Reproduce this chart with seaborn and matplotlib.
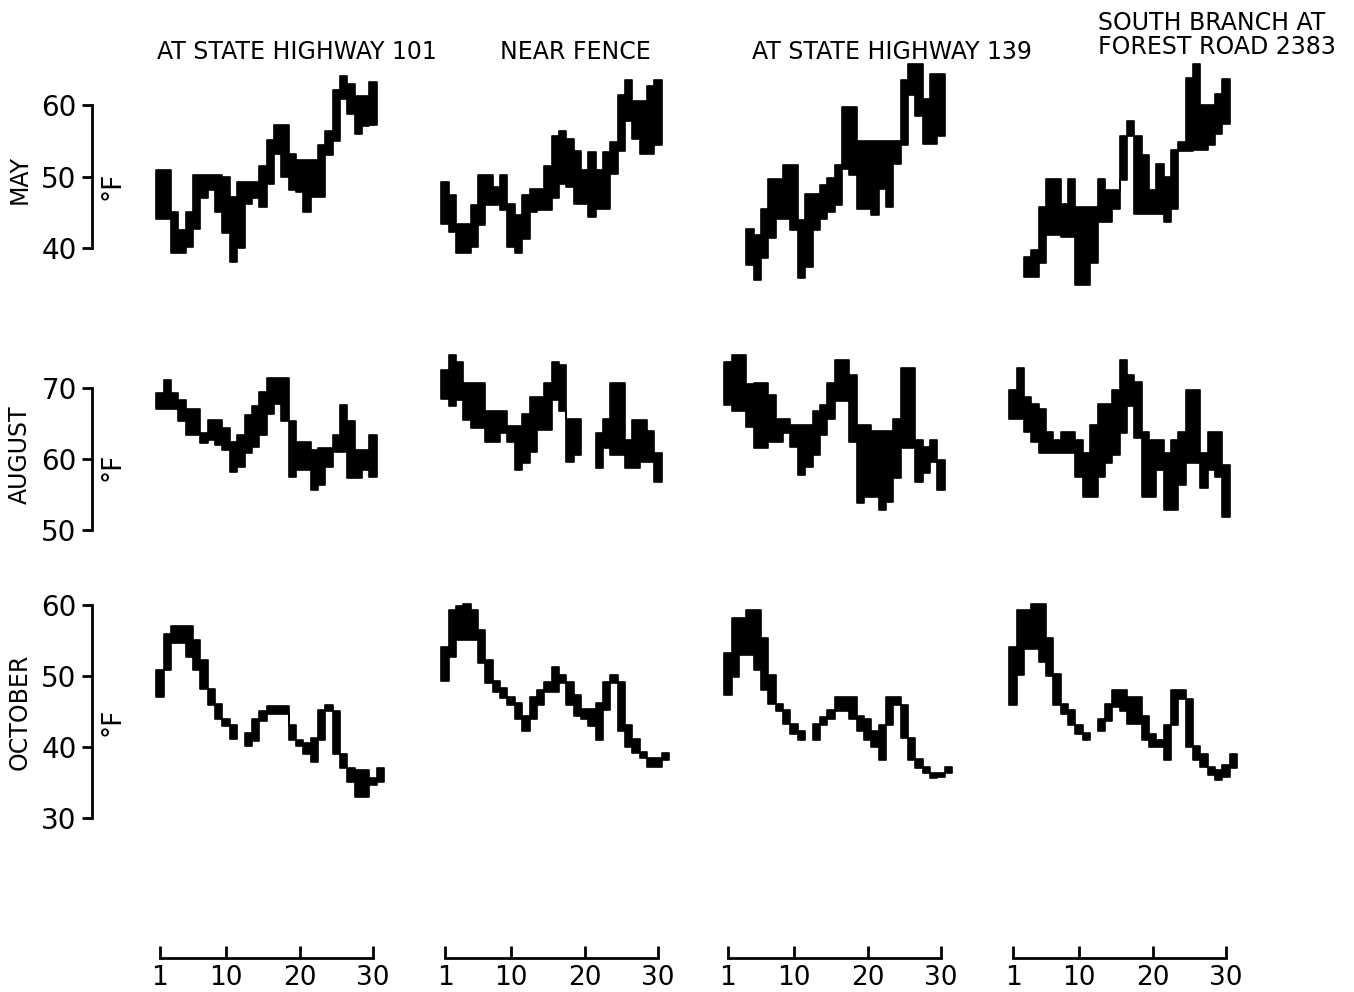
import numpy as np
import matplotlib
matplotlib.use('Agg')
import matplotlib.pyplot as plt
import seaborn as sns

nan = np.nan

# 지점, 월
sites = ['AT STATE HIGHWAY 101', 'NEAR FENCE', 'AT STATE HIGHWAY 139', 'SOUTH BRANCH AT\nFOREST ROAD 2383']
months = ['MAY', 'AUGUST', 'OCTOBER']
x_ticks = [1, 10, 20, 30]
y_ticks = {'MAY': [40, 50, 60], 'AUGUST': [50, 60, 70], 'OCTOBER': [30, 40, 50, 60]}

# 5월 일 최고/최저 수온 (°F)
may_101_hi = [50.9, 50.9, 45.1, 42.5, 45.1, 50.2, 50.2, 50.2, 50.2, 50.0, 47.2, 49.3, 49.3, 49.3, 51.4,
              55.1, 57.2, 57.2, 53.2, 52.3, 52.3, 52.3, 54.4, 56.3, 62.1, 64.1, 63.0, 61.2, 61.2, 63.2]
may_101_lo = [44.1, 44.0, 39.3, 39.3, 40.2, 42.7, 47.0, 48.1, 45.1, 42.1, 38.1, 40.0, 46.2, 47.0, 45.8,
              49.0, 53.2, 50.0, 48.1, 47.9, 45.1, 47.2, 47.2, 53.0, 54.9, 60.9, 58.8, 56.0, 57.0, 57.2]
may_fence_hi = [49.3, 47.4, 43.4, 43.4, 46.0, 50.2, 50.2, 48.6, 50.2, 46.2, 44.6, 47.4, 48.3, 48.3, 51.4,
                55.6, 56.4, 55.3, 53.5, 50.9, 53.4, 50.9, 53.4, 54.8, 61.4, 63.5, 60.5, 60.5, 62.6, 63.5]
may_fence_lo = [43.4, 42.3, 39.3, 39.3, 40.2, 43.2, 46.0, 46.0, 45.3, 40.2, 39.3, 41.3, 45.1, 45.3, 45.3,
                47.0, 49.0, 48.6, 46.2, 46.2, 44.4, 45.5, 45.5, 50.4, 53.5, 57.7, 55.3, 53.2, 53.2, 54.4]
may_139_hi = [nan, nan, nan, 42.7, 41.8, 45.5, 49.7, 49.7, 51.6, 51.6, 43.9, 47.6, 47.6, 48.8, 49.8,
              51.6, 59.7, 59.7, 54.9, 54.9, 54.9, 54.9, 54.9, 54.9, 63.5, 65.8, 65.8, 60.9, 64.4, 64.4]
may_139_lo = [nan, nan, nan, 37.6, 35.5, 38.6, 41.4, 44.1, 44.1, 42.5, 35.8, 37.4, 42.5, 44.1, 45.1,
              46.0, 51.0, 50.2, 45.5, 45.5, 44.6, 48.3, 45.8, 51.8, 54.4, 61.4, 58.4, 54.6, 54.6, 55.6]
may_2383_hi = [nan, nan, 38.8, 39.7, 45.8, 49.7, 49.7, 46.2, 49.7, 45.8, 45.8, 45.8, 49.7, 48.1, 48.1,
               55.7, 57.8, 55.7, 53.0, 48.1, 51.8, 50.0, 53.7, 54.8, 63.8, 65.7, 60.0, 60.0, 61.6, 63.6]
may_2383_lo = [nan, nan, 35.9, 35.9, 37.9, 41.8, 41.8, 41.6, 41.6, 34.8, 34.8, 37.9, 43.7, 43.7, 45.5,
               49.5, 55.6, 44.8, 44.8, 44.8, 44.8, 43.7, 45.5, 53.5, 53.5, 53.7, 53.7, 54.4, 56.0, 57.4]

# 8월
aug_101_hi = [69.3, 71.1, 69.3, 68.3, 67.1, 67.1, 63.6, 65.5, 65.5, 64.3, 62.4, 63.4, 66.2, 67.4, 69.5,
              71.4, 71.4, 71.4, 65.3, 62.4, 62.4, 61.3, 61.5, 61.5, 63.4, 67.6, 65.3, 61.3, 61.3, 63.4]
aug_101_lo = [67.1, 67.1, 67.1, 65.3, 63.4, 63.4, 62.2, 62.7, 62.0, 61.3, 58.2, 58.9, 60.8, 61.7, 63.4,
              66.4, 67.8, 65.3, 57.5, 58.5, 58.5, 55.6, 56.3, 58.9, 61.0, 61.0, 57.3, 57.3, 58.5, 57.5]
aug_fence_hi = [72.5, 74.6, 73.7, 70.7, 70.7, 70.7, 66.7, 66.7, 66.7, 64.6, 64.6, 66.4, 68.8, 68.8, 70.7,
                73.7, 73.2, 65.7, 65.7, nan, nan, 63.6, 65.7, 70.7, 70.7, 62.7, 65.5, 65.5, 63.9, 60.8]
aug_fence_lo = [68.5, 67.4, 68.3, 65.5, 64.3, 64.3, 62.4, 62.4, 63.6, 62.4, 58.5, 59.4, 61.0, 64.1, 64.1,
                68.3, 66.7, 59.6, 60.6, nan, nan, 58.7, 61.5, 60.6, 60.6, 58.7, 58.7, 59.6, 59.6, 56.8]
aug_139_hi = [73.7, 74.6, 74.6, 70.5, 70.7, 70.7, 69.0, 65.7, 65.7, 64.8, 64.8, 64.8, 66.7, 67.6, 70.7,
              73.9, 73.9, 71.8, 64.8, 64.8, 63.9, 63.9, 63.9, 65.7, 72.8, 72.8, 62.7, 61.7, 62.7, 59.9]
aug_139_lo = [67.6, 66.7, 66.7, 64.5, 61.5, 61.5, 62.4, 62.4, 63.6, 61.7, 57.8, 58.9, 60.6, 63.4, 65.7,
              68.1, 68.1, 62.4, 53.8, 54.7, 54.7, 52.8, 54.0, 57.3, 61.5, 61.5, 56.8, 58.0, 59.6, 55.6]
aug_2383_hi = [69.7, 72.8, 68.8, 67.8, 67.1, 63.8, 62.7, 63.8, 63.8, 62.7, 60.8, 64.8, 67.8, 67.8, 69.7,
               73.9, 71.8, 70.9, 63.8, 62.7, 62.7, 60.8, 62.7, 63.8, 69.7, 69.7, 60.8, 63.8, 63.8, 59.1]
aug_2383_lo = [65.7, 65.7, 63.8, 62.4, 60.8, 60.8, 60.8, 60.8, 60.8, 57.5, 54.7, 54.7, 57.5, 59.4, 60.6,
               63.6, 67.4, 62.9, 54.7, 54.7, 58.4, 52.8, 52.8, 56.3, 59.4, 59.4, 55.9, 58.4, 57.5, 51.9]

# 10월
oct_101_hi = [50.9, 55.9, 57.1, 57.1, 57.1, 55.1, 52.2, 48.1, 46.1, 44.0, 43.1, nan, 42.0, 43.9, 45.0, 45.8,
              45.8, 45.8, 43.1, 41.0, 40.5, 41.2, 45.2, 45.9, 45.0, 39.0, 37.1, 36.8, 36.8, 35.6, 37.0]
oct_101_lo = [47.0, 50.8, 54.7, 54.7, 52.7, 50.8, 48.1, 45.9, 44.0, 42.9, 41.1, nan, 40.1, 40.9, 43.7, 44.7,
              44.7, 44.7, 41.0, 40.1, 39.0, 37.9, 41.0, 45.0, 39.0, 37.0, 35.1, 33.0, 33.0, 34.6, 35.1]
oct_fence_hi = [54.1, 59.3, 59.8, 60.2, 59.3, 56.5, 52.3, 49.3, 48.3, 47.1, 46.2, 44.3, 47.1, 48.0, 49.2, 51.3,
                50.1, 49.1, 47.3, 45.4, 45.4, 46.2, 49.1, 50.1, 49.2, 43.1, 41.1, 39.3, 38.5, 38.5, 39.2]
oct_fence_lo = [49.3, 52.7, 55.0, 55.1, 55.1, 51.8, 49.0, 47.8, 46.9, 45.9, 44.0, 42.2, 44.0, 45.9, 47.8, 47.8,
                49.0, 45.9, 44.3, 44.0, 42.9, 41.0, 45.2, 49.0, 42.2, 40.0, 39.1, 38.4, 37.2, 37.2, 38.2]
oct_139_hi = [53.3, 58.1, 58.1, 59.3, 59.3, 55.3, 50.1, 46.1, 45.2, 43.3, 42.2, nan, 43.2, 44.2, 45.2, 47.1,
              47.1, 47.1, 44.3, 44.0, 42.2, 43.1, 47.1, 47.1, 45.9, 41.2, 38.3, 37.2, 36.3, 36.3, 37.2]
oct_139_lo = [47.3, 49.9, 53.0, 53.0, 50.8, 48.0, 46.1, 45.0, 43.3, 41.9, 41.0, nan, 41.0, 43.1, 44.0, 45.0,
              45.0, 44.0, 42.2, 41.0, 40.0, 38.2, 43.1, 45.9, 41.2, 38.2, 37.0, 36.3, 35.6, 35.8, 36.3]
oct_2383_hi = [54.1, 59.3, 59.3, 60.1, 60.1, 55.3, 50.3, 46.1, 45.2, 43.1, 42.0, nan, 44.0, 46.1, 48.0, 48.0,
               47.1, 47.1, 44.3, 41.9, 41.0, 43.1, 48.0, 48.0, 46.8, 40.1, 39.0, 37.2, 36.8, 37.5, 39.0]
oct_2383_lo = [45.9, 50.1, 53.8, 53.8, 52.0, 50.0, 45.9, 44.7, 43.1, 41.9, 41.0, nan, 42.2, 43.6, 45.7, 45.0,
               43.3, 43.3, 41.0, 40.0, 40.0, 38.2, 43.1, 46.8, 40.0, 38.2, 37.2, 36.0, 35.4, 35.8, 37.0]

panels = [
    [(may_101_hi, may_101_lo), (may_fence_hi, may_fence_lo), (may_139_hi, may_139_lo), (may_2383_hi, may_2383_lo)],
    [(aug_101_hi, aug_101_lo), (aug_fence_hi, aug_fence_lo), (aug_139_hi, aug_139_lo), (aug_2383_hi, aug_2383_lo)],
    [(oct_101_hi, oct_101_lo), (oct_fence_hi, oct_fence_lo), (oct_139_hi, oct_139_lo), (oct_2383_hi, oct_2383_lo)],
]

sns.set_theme(style='white')
plt.rcParams['font.family'] = ['DejaVu Sans']
plt.rcParams.update({'text.color': 'black', 'axes.labelcolor': 'black',
                     'xtick.color': 'black', 'ytick.color': 'black'})

W, H = 1354, 992
fig = plt.figure(figsize=(W / 100, H / 100), dpi=100)

# 배치 (픽셀 기준)
ppd = 7.35                         # 하루당 픽셀
col_tick1 = [160, 445, 728, 1013]  # '1' 눈금 위치
xlim = (0, 32)
rows_geo = [  # ylim, 기준값, 기준 y픽셀, 도당 픽셀
    ((33, 67), 60, 105, 7.15),
    ((47, 77), 70, 388, 7.1),
    ((30, 62), 60, 605, 7.1),
]
yaxis_x = 92
xaxis_y = 958
lw_ax = 2.0
pt = 72 / 100


def draw_band(ax, hi, lo):
    hi = np.asarray(hi, float)
    lo = np.asarray(lo, float)
    days = np.arange(1, len(hi) + 1)
    ok = ~np.isnan(hi)
    # 연속 구간별로 계단형 채움
    idx = np.flatnonzero(ok)
    runs = np.split(idx, np.flatnonzero(np.diff(idx) > 1) + 1)
    for r in runs:
        xs = np.append(days[r] - 0.5, days[r[-1]] + 0.5)
        ax.fill_between(xs, np.append(lo[r], lo[r[-1]]), np.append(hi[r], hi[r[-1]]),
                        step='post', color='black', edgecolor='black', linewidth=1.2)


for i, (m, (ylim, tref, yref, ppdeg)) in enumerate(zip(months, rows_geo)):
    top_px = yref - (ylim[1] - tref) * ppdeg
    bot_px = yref + (tref - ylim[0]) * ppdeg
    for j in range(4):
        left_px = col_tick1[j] - (1 - xlim[0]) * ppd
        width_px = (xlim[1] - xlim[0]) * ppd
        ax = fig.add_axes([left_px / W, 1 - bot_px / H, width_px / W, (bot_px - top_px) / H])
        ax.set_facecolor('none')
        hi, lo = panels[i][j]
        draw_band(ax, hi, lo)
        ax.set_xlim(*xlim)
        ax.set_ylim(*ylim)
        sns.despine(ax=ax, left=(j != 0), bottom=(i != 2))
        if j == 0:
            ax.spines['left'].set_position(('outward', (left_px - yaxis_x) * pt))
            ax.spines['left'].set_bounds(y_ticks[m][0], y_ticks[m][-1])
            ax.spines['left'].set_linewidth(lw_ax)
            ax.spines['left'].set_color('black')
            ax.set_yticks(y_ticks[m])
            ax.tick_params(axis='y', direction='out', length=7, width=lw_ax, colors='black',
                           labelsize=20, pad=4, left=True)
        else:
            ax.set_yticks([])
        if i == 2:
            ax.spines['bottom'].set_position(('outward', (xaxis_y - bot_px) * pt))
            ax.spines['bottom'].set_bounds(x_ticks[0], x_ticks[-1])
            ax.spines['bottom'].set_linewidth(lw_ax)
            ax.spines['bottom'].set_color('black')
            ax.set_xticks(x_ticks)
            ax.tick_params(axis='x', direction='in', length=9, width=lw_ax, colors='black',
                           labelsize=19, pad=5, bottom=True)
        else:
            ax.set_xticks([])

# 월 이름, 단위
row_label_y = [180, 455, 712]
unit_y = [186, 467, 722]
for m, yl, yu in zip(months, row_label_y, unit_y):
    fig.text(20 / W, 1 - yl / H, m, rotation=90, ha='center', va='center', fontsize=17, color='black')
    fig.text(112 / W, 1 - yu / H, '°F', rotation=90, ha='center', va='center', fontsize=19, color='black')

# 지점 제목
title_x = [297, 575, 892]
for s, tx in zip(sites[:3], title_x):
    fig.text(tx / W, 1 - 52 / H, s, ha='center', va='center', fontsize=17, color='black')
fig.text(1098 / W, 1 - 35 / H, sites[3], ha='left', va='center', fontsize=17, linespacing=1.05,
         color='black')

fig.savefig('out.png', dpi=100, facecolor='white')
